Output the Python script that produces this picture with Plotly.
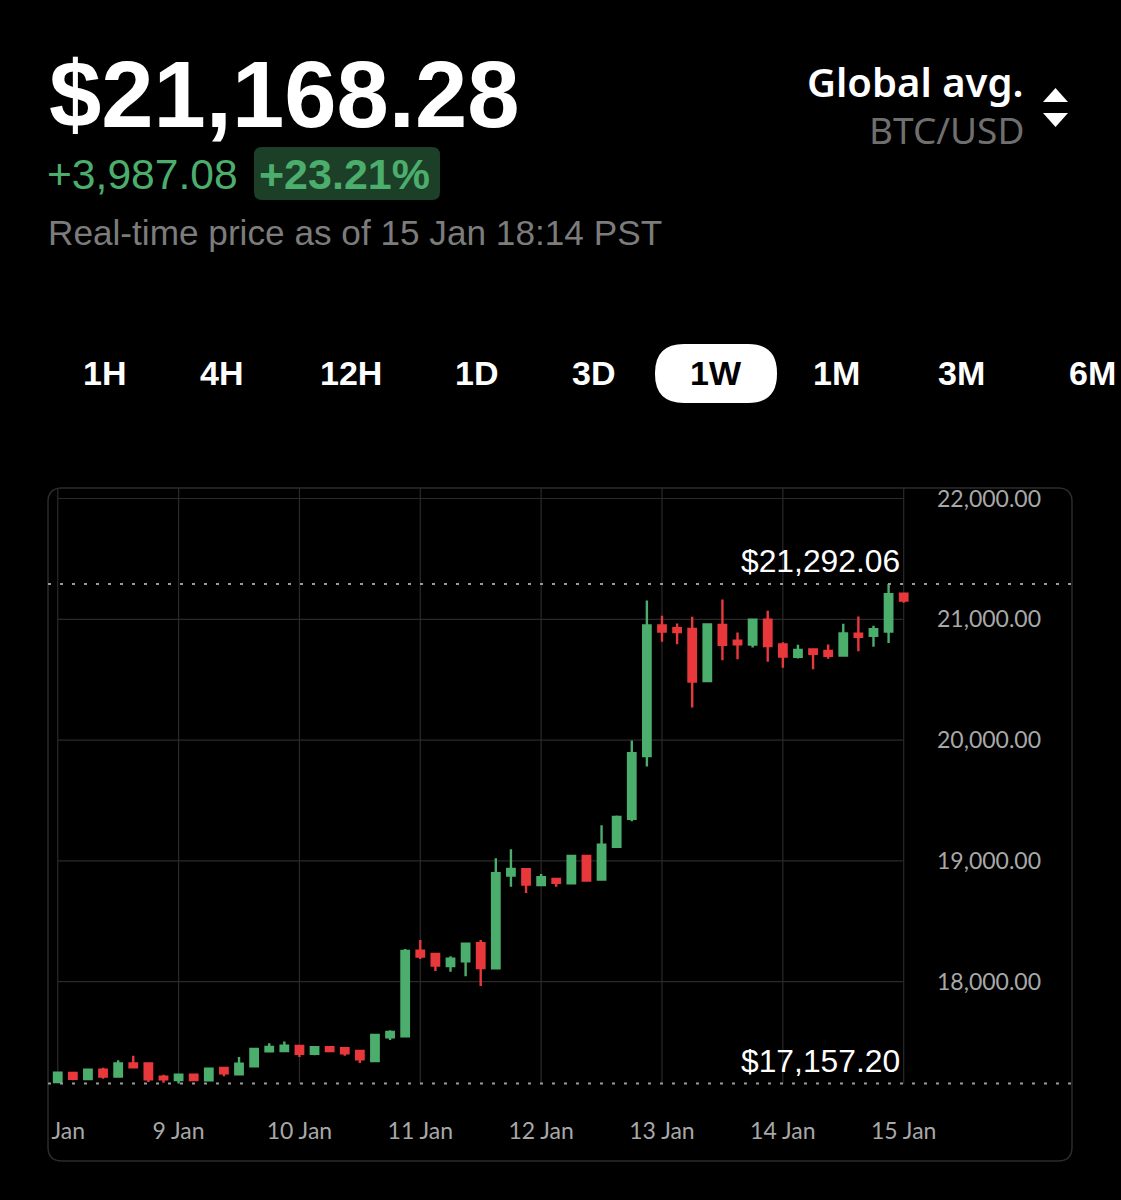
import pandas as pd
import plotly.graph_objects as go

W, H = 1121, 1200

times = pd.date_range("2023-01-08 00:00", periods=57, freq="3h")
opens = [17170,17244,17195,17272,17214,17324,17324,17214,17186,17230,17184,17286,17233,17299,17424,17426,17468,17404,17457,17449,17426,17344,17540,17548,
         18257,18230,18130,18169,18318,18111,18878,18931,18801,18851,18815,19041,18845,19116,19348,
         19867,20949,20927,20921,20488,20954,20822,20792,20996,20792,20689,20750,20739,20700,20880,20863,20899,21211]
highs = [17253,17253,17277,17288,17349,17388,17324,17230,17230,17236,17283,17286,17377,17449,17490,17504,17468,17457,17462,17454,17435,17559,17598,18271,
         18346,18235,18210,18315,18346,19022,19097,18931,18892,18856,19047,19041,19295,19375,19996,
         21156,21029,20965,21021,20965,21164,20891,20996,21070,20811,20789,20761,20792,20963,21023,20946,21292.06,21211]
lows = [17164,17184,17189,17197,17208,17291,17170,17164,17157.20,17184,17184,17217,17225,17291,17415,17418,17377,17391,17418,17388,17327,17344,17518,17548,
        18188,18089,18083,18045,17965,18111,18787,18735,18796,18787,18815,18832,18845,19113,19329,
        19781,20814,20794,20270,20488,20662,20670,20767,20648,20598,20676,20587,20673,20700,20736,20772,20803,21137]
closes = [17247,17197,17272,17214,17324,17291,17192,17192,17230,17186,17280,17242,17322,17443,17460,17471,17404,17457,17426,17407,17357,17559,17584,18255,
          18208,18133,18191,18315,18114,18898,18934,18804,18865,18818,19041,18837,19135,19364,19892,
          20949,20899,20894,20485,20957,20789,20794,20996,20778,20692,20747,20714,20698,20883,20855,20919,21208,21156]

y_ticks = [18000, 19000, 20000, 21000, 22000]
x_ticks = ["2023-01-09", "2023-01-10", "2023-01-11", "2023-01-12", "2023-01-13", "2023-01-14", "2023-01-15"]
x_labels = ["9 Jan", "10 Jan", "11 Jan", "12 Jan", "13 Jan", "14 Jan", "15 Jan"]
first_day = "2023-01-08"
first_label_pos = "2023-01-08 02:05"
period_high = 21292.06
period_low = 17157.20
tabs = ["1H", "4H", "12H", "1D", "3D", "1W", "1M", "3M"]
tab_x = [104, 221, 351, 476, 593, 716, 836, 961]
last_tab = "6M"

GREEN, RED = "#4cae6c", "#e9383c"
GRID = "#2a2a2a"

def px(x): return x / W
def py(y): return 1 - y / H

def rrect(x0, y0, x1, y1, r):
    X0, X1, Y0, Y1 = px(x0), px(x1), py(y0), py(y1)
    rx, ry = r / W, r / H
    return (f"M {X0+rx} {Y0} L {X1-rx} {Y0} Q {X1} {Y0} {X1} {Y0-ry} L {X1} {Y1+ry} Q {X1} {Y1} {X1-rx} {Y1} "
            f"L {X0+rx} {Y1} Q {X0} {Y1} {X0} {Y1+ry} L {X0} {Y0-ry} Q {X0} {Y0} {X0+rx} {Y0} Z")

def tri(x0, x1, ybase, ytip):
    return f"M {px(x0)} {py(ybase)} L {px(x1)} {py(ybase)} L {px((x0+x1)/2)} {py(ytip)} Z"

fig = go.Figure(go.Candlestick(
    x=times, open=opens, high=highs, low=lows, close=closes,
    increasing=dict(line=dict(color=GREEN, width=2.4), fillcolor=GREEN),
    decreasing=dict(line=dict(color=RED, width=2.4), fillcolor=RED),
    whiskerwidth=0, showlegend=False, hoverinfo="skip",
))

shapes = []
shapes.append(dict(type="path", path=rrect(48, 488, 1072, 1161, 14), xref="paper", yref="paper",
                   line=dict(color="#2b2b2b", width=1.5), layer="below"))
y_top = 22087
for t in [first_day] + x_ticks:
    shapes.append(dict(type="line", xref="x", yref="y", x0=t, x1=t, y0=period_low, y1=y_top,
                       line=dict(color=GRID, width=1.2), layer="below"))
for v in y_ticks:
    shapes.append(dict(type="line", xref="x", yref="y", x0=first_day, x1=x_ticks[-1], y0=v, y1=v,
                       line=dict(color=GRID, width=1.2), layer="below"))
for v in (period_high, period_low):
    shapes.append(dict(type="line", xref="paper", yref="y", x0=px(48), x1=px(1072), y0=v, y1=v,
                       line=dict(color="#9a9a9a", width=2, dash="3px 9px"), layer="above"))
shapes.append(dict(type="path", path=rrect(254, 147, 440, 200, 8), xref="paper", yref="paper",
                   fillcolor="#1c3f27", line=dict(width=0), layer="below"))
shapes.append(dict(type="path", path=rrect(655, 344, 777, 403, 29), xref="paper", yref="paper",
                   fillcolor="#ffffff", line=dict(width=0), layer="below"))
shapes.append(dict(type="path", path=tri(1043, 1068, 102, 88), xref="paper", yref="paper",
                   fillcolor="#ffffff", line=dict(width=0)))
shapes.append(dict(type="path", path=tri(1043, 1068, 113, 127), xref="paper", yref="paper",
                   fillcolor="#ffffff", line=dict(width=0)))

def note(text, x, y, size, color, family="Liberation Sans", anchor="left", weight=None):
    font = dict(size=size, color=color, family=family)
    if weight:
        font["weight"] = weight
    return dict(text=text, x=px(x), y=py(y), xref="paper", yref="paper", showarrow=False,
                xanchor=anchor, yanchor="middle", font=font, borderpad=0, borderwidth=0)

ann = [
    note("$21,168.28", 49, 95, 94, "#ffffff", weight=700),
    note("+3,987.08", 47, 174, 42.6, GREEN),
    note("+23.21%", 259, 174, 43, GREEN, weight=700),
    note("Real-time price as of 15 Jan 18:14 PST", 48, 233, 35.2, "#7c7c7c"),
    note("Global avg.", 1024, 81, 40, "#ffffff", family="Noto Sans", anchor="right", weight=600),
    note("BTC/USD", 1024, 129, 37, "#6f6f6f", family="Noto Sans", anchor="right"),
    note(f"${period_high:,.2f}", 900, 561, 31.8, "#ffffff", anchor="right"),
    note(f"${period_low:,.2f}", 900, 1061, 31.8, "#ffffff", anchor="right"),
]
for t, x in zip(tabs, tab_x):
    ann.append(note(t, x, 373, 34, "#000000" if t == "1W" else "#ffffff", anchor="center", weight=700))
ann.append(note(last_tab, 1116, 373, 34, "#ffffff", anchor="right", weight=700))

fig.update_layout(
    width=W, height=H, margin=dict(l=0, r=0, t=0, b=0, pad=0, autoexpand=False),
    paper_bgcolor="#000000", plot_bgcolor="rgba(0,0,0,0)",
    boxgap=0.3, shapes=shapes, annotations=ann, showlegend=False,
    xaxis=dict(
        domain=[px(48), px(912)], range=["2023-01-07 22:04", "2023-01-15 01:39"],
        type="date", rangeslider=dict(visible=False), showgrid=False, zeroline=False, showline=False,
        automargin=False,
        tickmode="array", tickvals=[first_label_pos] + x_ticks, ticktext=["Jan"] + x_labels,
        tickfont=dict(family="Lato", size=23, color="#a8a8a8"), ticks="", ticklabelstandoff=15,
    ),
    yaxis=dict(
        domain=[py(1100), py(488)], range=[17020.7, y_top], side="right", showgrid=False,
        automargin=False,
        zeroline=False, showline=False, tickmode="array", tickvals=y_ticks, tickformat=",.2f",
        tickfont=dict(family="Lato", size=23, color="#a8a8a8"), ticks="", ticklabelstandoff=24,
    ),
)

fig.write_html("out.html", post_script="document.body.style.margin='0';", config={"displayModeBar": False})
